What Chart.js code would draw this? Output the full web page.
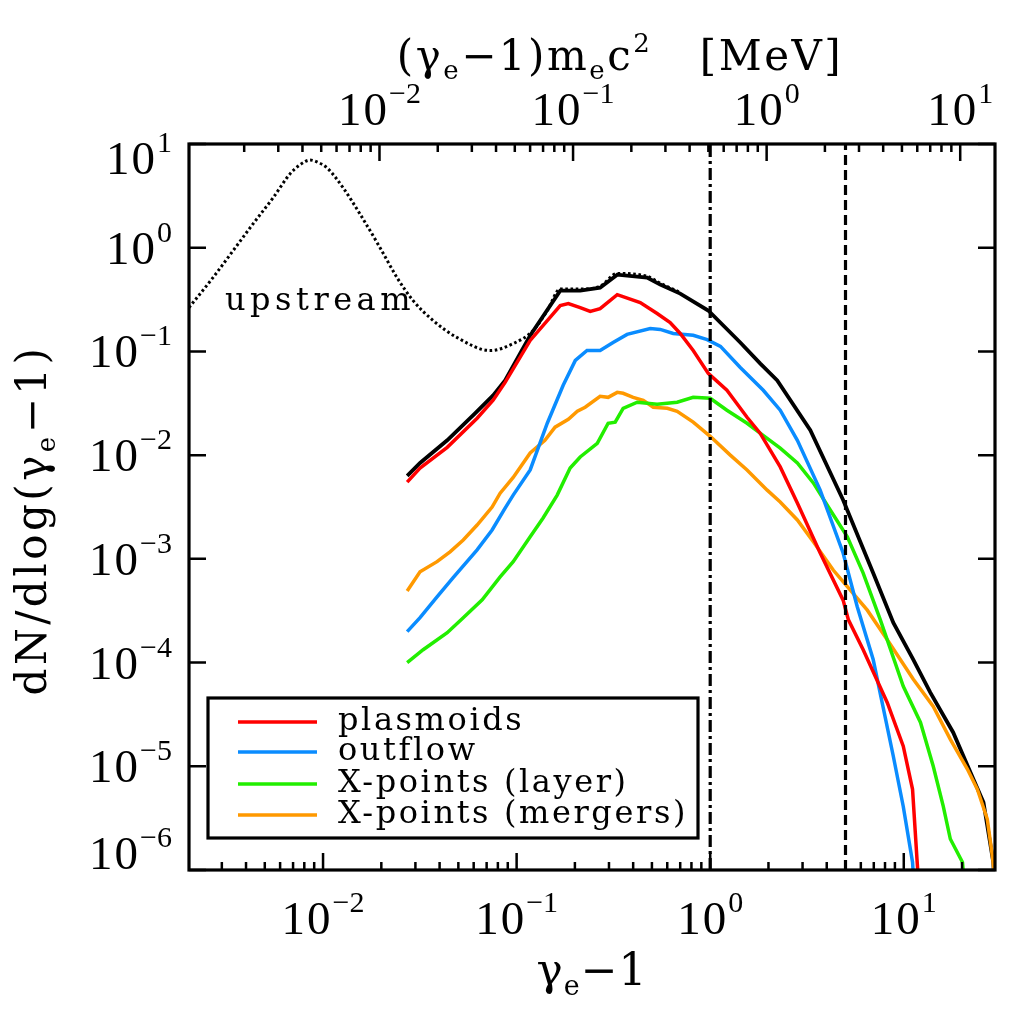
<!DOCTYPE html>
<html>
<head>
<meta charset="utf-8">
<script src="https://cdn.jsdelivr.net/npm/chart.js@4.4.1/dist/chart.umd.min.js"></script>
<style>
  html, body { margin: 0; padding: 0; background: #ffffff; }
  canvas { display: block; }
</style>
</head>
<body>
<canvas id="spectrumChart" width="1024" height="1013"></canvas>
<script>
// === 1. Data (x = gamma_e - 1, y = dN/dlog(gamma_e - 1)) ===
var X_MIN = 2.03e-3;
var X_MAX = 29.6;
var Y_MIN = 1e-6;
var Y_MAX = 10;
var ME_C2 = 0.511; // MeV, for the top axis

var totalX = [0.0272, 0.0317, 0.0438, 0.0610, 0.0756, 0.0872, 0.1175, 0.168, 0.213, 0.270, 0.331, 0.472, 0.552, 0.700, 0.977, 1.43, 1.81, 2.22, 3.29, 4.86, 6.95, 8.83, 11.2, 13.7, 18.0, 22.9, 25.8, 29.0, 29.6];
var totalY = [6.3e-3, 8.4e-3, 0.0139, 0.0253, 0.0377, 0.0526, 0.1426, 0.386, 0.386, 0.412, 0.550, 0.515, 0.441, 0.361, 0.248, 0.122, 0.0767, 0.0526, 0.0174, 3.69e-3, 7.3e-4, 2.42e-4, 1.07e-4, 5.15e-5, 2.12e-5, 7.5e-6, 4.5e-6, 1.19e-6, 6e-7];

var upstreamX = [2.03e-3, 2.70e-3, 3.43e-3, 4.35e-3, 5.52e-3, 6.75e-3, 7.6e-3, 8.57e-3, 9.5e-3, 0.0105, 0.0127, 0.0155, 0.0197, 0.0241, 0.0292, 0.0370, 0.0493, 0.0730, 0.0960, 0.1217, 0.144, 0.168, 0.213, 0.270, 0.331, 0.472, 0.552, 0.700];
var upstreamY = [0.265, 0.515, 0.936, 1.70, 3.03, 5.15, 6.3, 7.0, 6.6, 5.88, 3.78, 2.12, 1.0, 0.515, 0.309, 0.199, 0.136, 0.102, 0.119, 0.159, 0.248, 0.40, 0.40, 0.425, 0.565, 0.53, 0.455, 0.37];

var plasmoidsX = [0.0272, 0.0317, 0.0438, 0.0625, 0.0756, 0.0872, 0.1175, 0.168, 0.185, 0.213, 0.240, 0.270, 0.331, 0.435, 0.532, 0.621, 0.700, 0.817, 0.977, 1.22, 1.55, 1.81, 2.30, 2.82, 3.70, 4.86, 5.17, 6.17, 8.22, 9.94, 11.1, 11.7, 11.95];
var plasmoidsY = [5.5e-3, 7.5e-3, 0.0119, 0.0227, 0.0338, 0.0503, 0.1276, 0.277, 0.290, 0.265, 0.243, 0.259, 0.353, 0.296, 0.232, 0.190, 0.149, 0.102, 0.0614, 0.0422, 0.0232, 0.0163, 7.7e-3, 3.45e-3, 1.14e-3, 4.0e-4, 2.6e-4, 1.33e-4, 4.1e-5, 1.56e-5, 6.0e-6, 1.28e-6, 7e-7];

var outflowX = [0.0272, 0.0317, 0.0388, 0.0470, 0.0625, 0.0747, 0.0872, 0.0960, 0.1175, 0.144, 0.174, 0.201, 0.231, 0.270, 0.315, 0.372, 0.490, 0.552, 0.644, 0.817, 0.965, 1.13, 1.43, 1.88, 2.30, 2.82, 3.70, 4.86, 5.75, 6.95, 8.83, 9.94, 11.1, 11.3];
var outflowY = [1.99e-4, 2.71e-4, 4.3e-4, 6.6e-4, 1.22e-3, 1.90e-3, 3.09e-3, 4.12e-3, 7.2e-3, 0.0203, 0.0471, 0.0819, 0.102, 0.102, 0.122, 0.146, 0.166, 0.163, 0.149, 0.143, 0.130, 0.112, 0.070, 0.0422, 0.0271, 0.0139, 4.6e-3, 1.14e-3, 3.45e-4, 1.07e-4, 1.25e-5, 4.1e-6, 1.19e-6, 7e-7];

var layerX = [0.0272, 0.0329, 0.0438, 0.0530, 0.0664, 0.0822, 0.096, 0.1175, 0.137, 0.162, 0.189, 0.213, 0.261, 0.297, 0.323, 0.355, 0.420, 0.532, 0.675, 0.817, 1.0, 1.22, 1.55, 1.81, 2.30, 2.82, 3.41, 4.17, 5.11, 6.17, 7.56, 9.94, 12.2, 14.2, 16.0, 17.4, 20.1, 20.6];
var layerY = [1.0e-4, 1.33e-4, 1.94e-4, 2.71e-4, 4.03e-4, 6.7e-4, 9.4e-4, 1.63e-3, 2.48e-3, 4.12e-3, 7.5e-3, 9.6e-3, 0.0130, 0.0203, 0.0208, 0.0283, 0.0324, 0.0309, 0.0324, 0.0361, 0.0353, 0.0271, 0.0203, 0.0163, 0.0117, 8.4e-3, 5.4e-3, 2.96e-3, 1.63e-3, 7.3e-4, 2.6e-4, 5.9e-5, 2.65e-5, 1.0e-5, 4.1e-6, 1.99e-6, 1.19e-6, 7e-7];

var mergersX = [0.0272, 0.0317, 0.0388, 0.0453, 0.0530, 0.0625, 0.0747, 0.0822, 0.096, 0.1175, 0.140, 0.158, 0.185, 0.206, 0.226, 0.270, 0.297, 0.331, 0.355, 0.400, 0.451, 0.508, 0.600, 0.675, 0.817, 1.0, 1.27, 1.55, 1.97, 2.30, 2.82, 3.41, 4.32, 5.11, 6.48, 8.22, 11.2, 14.2, 17.4, 21.3, 24.0, 27.0, 28.7, 29.6];
var mergersY = [4.9e-4, 7.5e-4, 9.4e-4, 1.17e-3, 1.52e-3, 2.12e-3, 3.16e-3, 4.3e-3, 6.1e-3, 0.0105, 0.0139, 0.0186, 0.0222, 0.0265, 0.0290, 0.0369, 0.0361, 0.0403, 0.0395, 0.0361, 0.0338, 0.0290, 0.0283, 0.0265, 0.0208, 0.0152, 0.0100, 7.2e-3, 4.6e-3, 3.53e-3, 2.37e-3, 1.46e-3, 7.8e-4, 5.4e-4, 3.2e-4, 1.66e-4, 6.9e-5, 3.78e-5, 1.82e-5, 9.4e-6, 6.0e-6, 3.1e-6, 1.36e-6, 8e-7];

// vertical reference lines
var markerDashDotX = [1, 1];
var markerDashedX = [5, 5];
var markerY = [Y_MIN, Y_MAX];

var yTickExps = [1, 0, -1, -2, -3, -4, -5, -6];
var xTickExps = [-2, -1, 0, 1];

function toPoints(xs, ys) {
  return xs.map(function (x, i) { return { x: x, y: ys[i] }; });
}

// === 2. Drawing helpers ===
var NUM_FONT = '"Liberation Serif", serif';
var TXT_FONT = '"DejaVu Serif", serif';

function drawPow(ctx, x, y, exp, align) {
  ctx.font = '47px ' + NUM_FONT;
  var wb = ctx.measureText('10').width + 2;
  ctx.font = '30px ' + NUM_FONT;
  var we = ctx.measureText(exp).width;
  var w = wb + 2 + we;
  var x0 = align === 'right' ? x - w : x - w / 2;
  ctx.textAlign = 'left';
  ctx.textBaseline = 'alphabetic';
  ctx.letterSpacing = '2px';
  ctx.font = '47px ' + NUM_FONT;
  ctx.fillText('10', x0, y);
  ctx.letterSpacing = '0px';
  ctx.font = '30px ' + NUM_FONT;
  ctx.fillText(exp, x0 + wb + 2, y - 22);
}

// parts: [text, kind]; kind 0 = normal, 1 = subscript, 2 = superscript
function drawRich(ctx, parts, x, y, size, spacing) {
  var small = Math.round(size * 0.62);
  ctx.letterSpacing = spacing + 'px';
  var widths = parts.map(function (p) {
    ctx.font = (p[1] ? small : size) + 'px ' + TXT_FONT;
    return ctx.measureText(p[0]).width;
  });
  var total = widths.reduce(function (s, w) { return s + w; }, 0);
  var cx = x - total / 2;
  ctx.textAlign = 'left';
  ctx.textBaseline = 'alphabetic';
  parts.forEach(function (p, i) {
    ctx.font = (p[1] ? small : size) + 'px ' + TXT_FONT;
    var dy = p[1] === 1 ? size * 0.22 : (p[1] === 2 ? -size * 0.42 : 0);
    ctx.fillText(p[0], cx, y + dy);
    cx += widths[i];
  });
  ctx.letterSpacing = '0px';
}

function logTicks(min, max) {
  var out = [];
  for (var e = Math.floor(Math.log10(min)); e <= Math.ceil(Math.log10(max)); e++) {
    for (var m = 1; m < 10; m++) {
      var v = m * Math.pow(10, e);
      if (v >= min && v <= max) out.push({ v: v, major: m === 1 });
    }
  }
  return out;
}

// === 3. Frame, inward ticks, labels, legend and annotations ===
var framePlugin = {
  id: 'frame',
  afterDraw: function (chart) {
    var ctx = chart.ctx;
    var a = chart.chartArea;
    var sx = chart.scales.x, sxt = chart.scales.xMeV, sy = chart.scales.y;
    ctx.save();
    ctx.strokeStyle = '#000';
    ctx.fillStyle = '#000';

    // box
    ctx.lineWidth = 3.2;
    ctx.strokeRect(a.left, a.top, a.right - a.left, a.bottom - a.top);

    // ticks
    ctx.lineWidth = 2.5;
    ctx.beginPath();
    logTicks(X_MIN, X_MAX).forEach(function (t) {
      var px = sx.getPixelForValue(t.v);
      var len = t.major ? 17 : 8;
      ctx.moveTo(px, a.bottom); ctx.lineTo(px, a.bottom - len);
    });
    logTicks(X_MIN * ME_C2, X_MAX * ME_C2).forEach(function (t) {
      var px = sxt.getPixelForValue(t.v);
      var len = t.major ? 17 : 8;
      ctx.moveTo(px, a.top); ctx.lineTo(px, a.top + len);
    });
    yTickExps.forEach(function (e) {
      var py = sy.getPixelForValue(Math.pow(10, e));
      ctx.moveTo(a.left, py); ctx.lineTo(a.left + 17, py);
      ctx.moveTo(a.right, py); ctx.lineTo(a.right - 17, py);
    });
    ctx.stroke();

    // tick labels
    xTickExps.forEach(function (e) {
      var label = e < 0 ? '\u2212' + (-e) : String(e);
      drawPow(ctx, sx.getPixelForValue(Math.pow(10, e)), a.bottom + 64, label, 'center');
      drawPow(ctx, sxt.getPixelForValue(Math.pow(10, e)), a.top - 19, label, 'center');
    });
    yTickExps.forEach(function (e, i) {
      var label = e < 0 ? '\u2212' + (-e) : String(e);
      var py = sy.getPixelForValue(Math.pow(10, e)) + 16;
      if (i === 0) py += 14;
      if (i === yTickExps.length - 1) py -= 17;
      drawPow(ctx, a.left - 17, py, label, 'right');
    });

    // axis titles
    drawRich(ctx, [['\u03b3', 0], ['e', 1], ['\u22121', 0]], 592, 985, 44, 1);
    drawRich(ctx, [['(\u03b3', 0], ['e', 1], ['\u22121)m', 0], ['e', 1], ['c', 0], ['2', 2], ['   [MeV]', 0]], 620, 70, 42, 2.5);
    ctx.save();
    ctx.translate(46, 520);
    ctx.rotate(-Math.PI / 2);
    drawRich(ctx, [['dN/dlog(\u03b3', 0], ['e', 1], ['\u22121)', 0]], 0, 0, 42, 3.5);
    ctx.restore();

    // "upstream" label
    ctx.font = '32px ' + TXT_FONT;
    ctx.letterSpacing = '4.5px';
    ctx.textAlign = 'left';
    ctx.fillText('upstream', 225, 310);

    // legend
    ctx.letterSpacing = '2.6px';
    ctx.lineWidth = 3.2;
    ctx.strokeRect(208, 698, 490, 140);
    var rows = [722, 752, 784, 815];
    [2, 3, 4, 5].forEach(function (di, i) {
      var ds = chart.data.datasets[di];
      ctx.strokeStyle = ds.borderColor;
      ctx.lineWidth = 3.5;
      ctx.beginPath();
      ctx.moveTo(238, rows[i]); ctx.lineTo(317, rows[i]);
      ctx.stroke();
      ctx.fillStyle = '#000';
      ctx.fillText(ds.label, 338, rows[i] + 8);
    });
    ctx.restore();
  }
};

// === 4. Chart ===
var ctx = document.getElementById('spectrumChart').getContext('2d');
new Chart(ctx, {
  type: 'line',
  data: {
    datasets: [
      {
        label: 'dash-dot', data: toPoints(markerDashDotX, markerY),
        borderColor: '#000', borderWidth: 3.2, borderDash: [12, 4, 3, 4]
      },
      {
        label: 'dashed', data: toPoints(markerDashedX, markerY),
        borderColor: '#000', borderWidth: 3.2, borderDash: [10, 5]
      },
      { label: 'plasmoids', data: toPoints(plasmoidsX, plasmoidsY), borderColor: '#ff0000', borderWidth: 3.5 },
      { label: 'outflow', data: toPoints(outflowX, outflowY), borderColor: '#0a8cff', borderWidth: 3.5 },
      { label: 'X-points (layer)', data: toPoints(layerX, layerY), borderColor: '#22ee00', borderWidth: 3.5 },
      { label: 'X-points (mergers)', data: toPoints(mergersX, mergersY), borderColor: '#ff9900', borderWidth: 3.5 },
      { label: 'total', data: toPoints(totalX, totalY), borderColor: '#000', borderWidth: 3.8 },
      {
        label: 'upstream', data: toPoints(upstreamX, upstreamY),
        borderColor: '#000', borderWidth: 3, borderDash: [2.6, 2.6],
        cubicInterpolationMode: 'monotone'
      }
    ]
  },
  options: {
    responsive: false,
    animation: false,
    events: [],
    elements: { point: { radius: 0 }, line: { fill: false, tension: 0 } },
    layout: { padding: { left: 189, right: 29, top: 144, bottom: 143 } },
    plugins: { legend: { display: false }, tooltip: { enabled: false } },
    scales: {
      x: { type: 'logarithmic', min: X_MIN, max: X_MAX, display: false },
      xMeV: { type: 'logarithmic', position: 'top', min: X_MIN * ME_C2, max: X_MAX * ME_C2, display: false },
      y: { type: 'logarithmic', min: Y_MIN, max: Y_MAX, display: false }
    }
  },
  plugins: [framePlugin]
});
</script>
</body>
</html>
